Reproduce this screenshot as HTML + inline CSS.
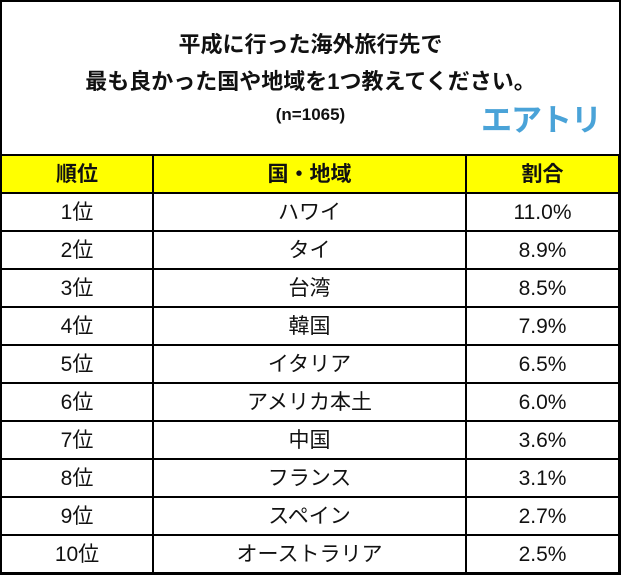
<!DOCTYPE html>
<html><head><meta charset="utf-8"><style>
body{margin:0;width:621px;height:575px;background:#fff;font-family:"Liberation Sans","Noto Sans CJK JP",sans-serif;overflow:hidden;position:relative}
#wrap{position:absolute;left:0;top:0;width:617px;height:571px;border:2px solid #000}
.t{position:absolute;left:0;width:617px;text-align:center;font-weight:bold;color:#111;line-height:1}
table{position:absolute;left:0;top:154px;border-collapse:collapse;width:620px;table-layout:fixed}
tr{height:38px}
td{border:2px solid #000;text-align:center;font-size:21px;padding:0;color:#111;line-height:1}
th{border:2px solid #000;background:#ffff00;font-size:21px;font-weight:bold;padding:0;color:#111;line-height:1}
#logo{position:absolute;left:479px;top:103px;font-size:31px;font-weight:bold;color:#4aa3d8;letter-spacing:-1px;line-height:1}
</style></head><body>
<div id="wrap">
<div class="t" style="top:32px;font-size:22px">平成に行った海外旅行先で</div>
<div class="t" style="top:69px;font-size:22px">最も良かった国や地域を1つ教えてください。</div>
<div class="t" style="top:104px;font-size:17px">(n=1065)</div>
<div id="logo">エアトリ</div>
</div>
<table>
<tr><th style="width:150px">順位</th><th style="width:311px">国・地域</th><th>割合</th></tr>
<tr><td>1位</td><td>ハワイ</td><td>11.0%</td></tr>
<tr><td>2位</td><td>タイ</td><td>8.9%</td></tr>
<tr><td>3位</td><td>台湾</td><td>8.5%</td></tr>
<tr><td>4位</td><td>韓国</td><td>7.9%</td></tr>
<tr><td>5位</td><td>イタリア</td><td>6.5%</td></tr>
<tr><td>6位</td><td>アメリカ本土</td><td>6.0%</td></tr>
<tr><td>7位</td><td>中国</td><td>3.6%</td></tr>
<tr><td>8位</td><td>フランス</td><td>3.1%</td></tr>
<tr><td>9位</td><td>スペイン</td><td>2.7%</td></tr>
<tr><td>10位</td><td>オーストラリア</td><td>2.5%</td></tr>
</table>
</body></html>
